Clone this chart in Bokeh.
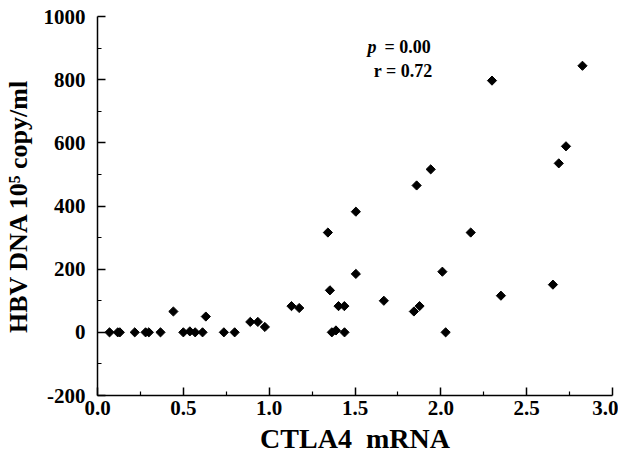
import numpy as np
from bokeh.plotting import figure
from bokeh.models import ColumnDataSource, FixedTicker, Label, Range1d
from bokeh.embed import file_html
from bokeh.resources import INLINE

# data
ctla4_mrna = [0.070, 0.118, 0.130, 0.217, 0.280, 0.299, 0.367, 0.442, 0.500, 0.538,
              0.569, 0.612, 0.631, 0.736, 0.799, 0.890, 0.934, 0.975, 1.130, 1.175,
              1.342, 1.354, 1.365, 1.389, 1.404, 1.438, 1.439, 1.505, 1.505, 1.668,
              1.843, 1.859, 1.876, 1.941, 2.009, 2.028, 2.174, 2.298, 2.350, 2.653,
              2.687, 2.729, 2.825]
hbv_dna = [0, 0, 0, 0, 0, 0, 0, 66, 0, 3,
           0, 0, 50, 0, 0, 33, 33, 17, 83, 77,
           316, 133, 0, 6, 83, 83, 0, 382, 185, 100,
           66, 465, 83, 516, 192, 0, 316, 797, 116, 151,
           535, 589, 844]

x_ticks = [0.0, 0.5, 1.0, 1.5, 2.0, 2.5, 3.0]
x_minor = [0.25, 0.75, 1.25, 1.75, 2.25, 2.75]
y_ticks = [-200, 0, 200, 400, 600, 800, 1000]
y_minor = [-100, 100, 300, 500, 700, 900]

FONT = "Liberation Serif"

p = figure(width=618, height=456, output_backend="svg", toolbar_location=None,
           x_range=Range1d(0, 3), y_range=Range1d(-200, 1000),
           min_border_left=97, min_border_right=6, min_border_top=16, min_border_bottom=61)
p.outline_line_color = None
p.xgrid.visible = False
p.ygrid.visible = False
p.background_fill_color = "white"

src = ColumnDataSource(dict(x=ctla4_mrna, y=hbv_dna))
p.scatter("x", "y", source=src, marker="square", size=6.5, angle=np.pi / 4,
          fill_color="black", line_color="black")

for ax, ticks, minor in ((p.xaxis[0], x_ticks, x_minor), (p.yaxis[0], y_ticks, y_minor)):
    ax.ticker = FixedTicker(ticks=ticks, minor_ticks=minor)
    ax.axis_line_width = 1.5
    ax.axis_line_color = "black"
    ax.major_tick_in = 8
    ax.major_tick_out = 0
    ax.minor_tick_in = 4
    ax.minor_tick_out = 0
    ax.major_tick_line_width = 1.5
    ax.minor_tick_line_width = 1.2
    ax.major_tick_line_color = "black"
    ax.minor_tick_line_color = "black"
    ax.major_label_text_font = FONT
    ax.major_label_text_font_style = "bold"
    ax.major_label_text_font_size = "21px"
    ax.major_label_text_color = "black"
    ax.axis_label_text_font = FONT
    ax.axis_label_text_font_style = "bold"
    ax.axis_label_text_color = "black"

p.xaxis[0].axis_label_text_font_size = "28px"
p.yaxis[0].axis_label_text_font_size = "26px"
p.xaxis[0].major_label_overrides = {t: f"{t:.1f}" for t in x_ticks}
p.yaxis[0].major_label_overrides = {t: f"{t}" for t in y_ticks}
p.xaxis[0].axis_label = "CTLA4\u00a0\u00a0mRNA"
p.yaxis[0].axis_label = "HBV DNA 10\u2075 copy/ml"
p.xaxis[0].major_label_standoff = 5
p.yaxis[0].major_label_standoff = 12
p.xaxis[0].axis_label_standoff = 5
p.yaxis[0].axis_label_standoff = 8

p.add_layout(Label(x=1.573, y=904, text="p", text_font=FONT, text_font_style="bold italic",
                   text_font_size="18px", text_align="left", text_baseline="alphabetic",
                   text_color="black"))
p.add_layout(Label(x=1.941, y=904, text="= 0.00", text_font=FONT, text_font_style="bold",
                   text_font_size="18px", text_align="right", text_baseline="alphabetic",
                   text_color="black"))
p.add_layout(Label(x=1.952, y=828, text="r = 0.72", text_font=FONT, text_font_style="bold",
                   text_font_size="18px", text_align="right", text_baseline="alphabetic",
                   text_color="black"))

open("out.html", "w").write(file_html(p, INLINE))
